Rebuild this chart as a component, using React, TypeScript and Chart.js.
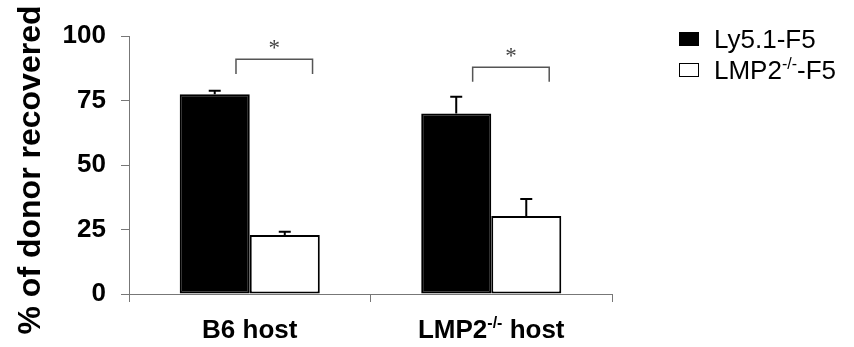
import React, { useEffect, useRef } from "react";
import { Chart, registerables } from "chart.js";

Chart.register(...registerables);

// ---- data ----
const categories = ["B6 host", "LMP2-/- host"];
const seriesNames = ["Ly5.1-F5", "LMP2-/--F5"];
const ly51Values = [77.4, 70.0];
const ly51Errors = [1.4, 6.5];
const lmp2Values = [22.9, 30.2];
const lmp2Errors = [1.2, 6.6];
const bracketTops = [91.0, 87.9];
const bracketBottoms = [85.3, 82.3];
const bracketLabels = ["*", "*"];
const yTitle = "% of donor recovered";

// ---- styles ----
const FONT = "'Liberation Sans', Arial, sans-serif";
const SERIF = "'Liberation Serif', 'Times New Roman', serif";
const seriesFill = ["#000000", "#ffffff"];
const bracketSpan = [
  [-0.057, 0.26],
  [-0.077, 0.24],
];

function splitSup(text: string) {
  const i = text.indexOf("-/-");
  if (i < 0) return [{ t: text, sup: false }];
  return [
    { t: text.slice(0, i), sup: false },
    { t: "-/-", sup: true },
    { t: text.slice(i + 3), sup: false },
  ];
}

function drawRich(
  ctx: CanvasRenderingContext2D,
  text: string,
  x: number,
  y: number,
  size: number,
  weight: string,
  align: "left" | "center"
) {
  const parts = splitSup(text);
  const supSize = Math.round(size * 0.6);
  const widths = parts.map((p) => {
    ctx.font = `${weight} ${p.sup ? supSize : size}px ${FONT}`;
    return ctx.measureText(p.t).width;
  });
  const total = widths.reduce((a, b) => a + b, 0);
  let cx = align === "center" ? x - total / 2 : x;
  ctx.textAlign = "left";
  ctx.textBaseline = "alphabetic";
  parts.forEach((p, k) => {
    ctx.font = `${weight} ${p.sup ? supSize : size}px ${FONT}`;
    ctx.fillText(p.t, cx, p.sup ? y - size * 0.38 : y);
    cx += widths[k];
  });
}

const errorBarPlugin = {
  id: "errorBars",
  afterDatasetsDraw(chart: any) {
    const ctx = chart.ctx;
    const yScale = chart.scales.y;
    const errs = [ly51Errors, lmp2Errors];
    const vals = [ly51Values, lmp2Values];
    ctx.save();
    ctx.strokeStyle = "#000";
    ctx.lineWidth = 2;
    chart.data.datasets.forEach((_d: any, di: number) => {
      const meta = chart.getDatasetMeta(di);
      meta.data.forEach((bar: any, j: number) => {
        const top = yScale.getPixelForValue(vals[di][j]);
        const e = yScale.getPixelForValue(vals[di][j] + errs[di][j]);
        ctx.beginPath();
        ctx.moveTo(bar.x, top);
        ctx.lineTo(bar.x, e);
        ctx.moveTo(bar.x - 6, e);
        ctx.lineTo(bar.x + 6, e);
        ctx.stroke();
      });
    });
    ctx.restore();
  },
};

const annotationPlugin = {
  id: "annotations",
  afterDraw(chart: any) {
    const ctx = chart.ctx;
    const xs = chart.scales.x;
    const ys = chart.scales.y;
    const catW = (xs.right - xs.left) / categories.length;
    ctx.save();
    // brackets
    bracketTops.forEach((t, i) => {
      const c = xs.getPixelForValue(i);
      const x1 = c + bracketSpan[i][0] * catW;
      const x2 = c + bracketSpan[i][1] * catW;
      const yt = ys.getPixelForValue(t);
      const yb = ys.getPixelForValue(bracketBottoms[i]);
      ctx.strokeStyle = "#555";
      ctx.lineWidth = 1.5;
      ctx.beginPath();
      ctx.moveTo(x1, yb);
      ctx.lineTo(x1, yt);
      ctx.lineTo(x2, yt);
      ctx.lineTo(x2, yb);
      ctx.stroke();
      ctx.fillStyle = "#444";
      ctx.font = `23px ${SERIF}`;
      ctx.textAlign = "center";
      ctx.textBaseline = "alphabetic";
      ctx.fillText(bracketLabels[i], (x1 + x2) / 2, yt - 4);
    });
    // y title
    ctx.save();
    ctx.translate(31.5, 170);
    ctx.rotate(-Math.PI / 2);
    ctx.fillStyle = "#000";
    ctx.font = `bold 32px ${FONT}`;
    ctx.textAlign = "center";
    ctx.textBaseline = "middle";
    ctx.fillText(yTitle, 0, 0);
    ctx.restore();
    // x category labels
    ctx.fillStyle = "#000";
    categories.forEach((lab, i) => {
      drawRich(ctx, lab, xs.getPixelForValue(i), 338, 26, "bold", "center");
    });
    // legend
    seriesNames.forEach((name, i) => {
      const cy = 39 + i * 31;
      ctx.fillStyle = seriesFill[i];
      ctx.fillRect(679, cy - 7, 20, 14);
      ctx.strokeStyle = "#000";
      ctx.lineWidth = 1;
      ctx.strokeRect(679.5, cy - 6.5, 19, 13);
      ctx.fillStyle = "#000";
      drawRich(ctx, name, 714, cy + 9, 26, "normal", "left");
    });
    ctx.restore();
  },
};

export default function App() {
  const ref = useRef<HTMLCanvasElement>(null);
  useEffect(() => {
    if (!ref.current) return;
    const chart = new Chart(ref.current, {
      type: "bar",
      data: {
        labels: categories,
        datasets: [
          {
            label: seriesNames[0],
            data: ly51Values,
            backgroundColor: seriesFill[0],
            borderColor: "#000",
            borderWidth: 2,
            borderSkipped: false,
          },
          {
            label: seriesNames[1],
            data: lmp2Values,
            backgroundColor: seriesFill[1],
            borderColor: "#000",
            borderWidth: 2,
            borderSkipped: false,
          },
        ],
      },
      options: {
        animation: false,
        responsive: true,
        maintainAspectRatio: false,
        layout: { padding: { top: 36, right: 242, left: 0, bottom: 0 } },
        plugins: {
          legend: { display: false },
          tooltip: { enabled: false },
        },
        datasets: {
          bar: { categoryPercentage: 0.58, barPercentage: 1.0 },
        },
        scales: {
          x: {
            offset: true,
            grid: {
              display: true,
              drawOnChartArea: false,
              offset: true,
              tickLength: 8,
              color: "#777",
            },
            border: { display: true, color: "#777", width: 1 },
            ticks: { display: false },
            afterFit: (s: any) => {
              s.height = 53;
            },
          },
          y: {
            min: 0,
            max: 100,
            ticks: {
              stepSize: 25,
              color: "#000",
              padding: 15,
              font: { family: FONT, size: 26, weight: "bold" },
            },
            grid: {
              display: true,
              drawOnChartArea: false,
              tickLength: 8,
              color: "#777",
            },
            border: { display: true, color: "#777", width: 1 },
            afterFit: (s: any) => {
              s.width = 129;
            },
          },
        },
      },
      plugins: [errorBarPlugin, annotationPlugin],
    });
    return () => chart.destroy();
  }, []);
  return (
    <div style={{ position: "absolute", left: 0, top: 0, width: 854, height: 347, background: "#fff" }}>
      <canvas ref={ref} />
    </div>
  );
}
